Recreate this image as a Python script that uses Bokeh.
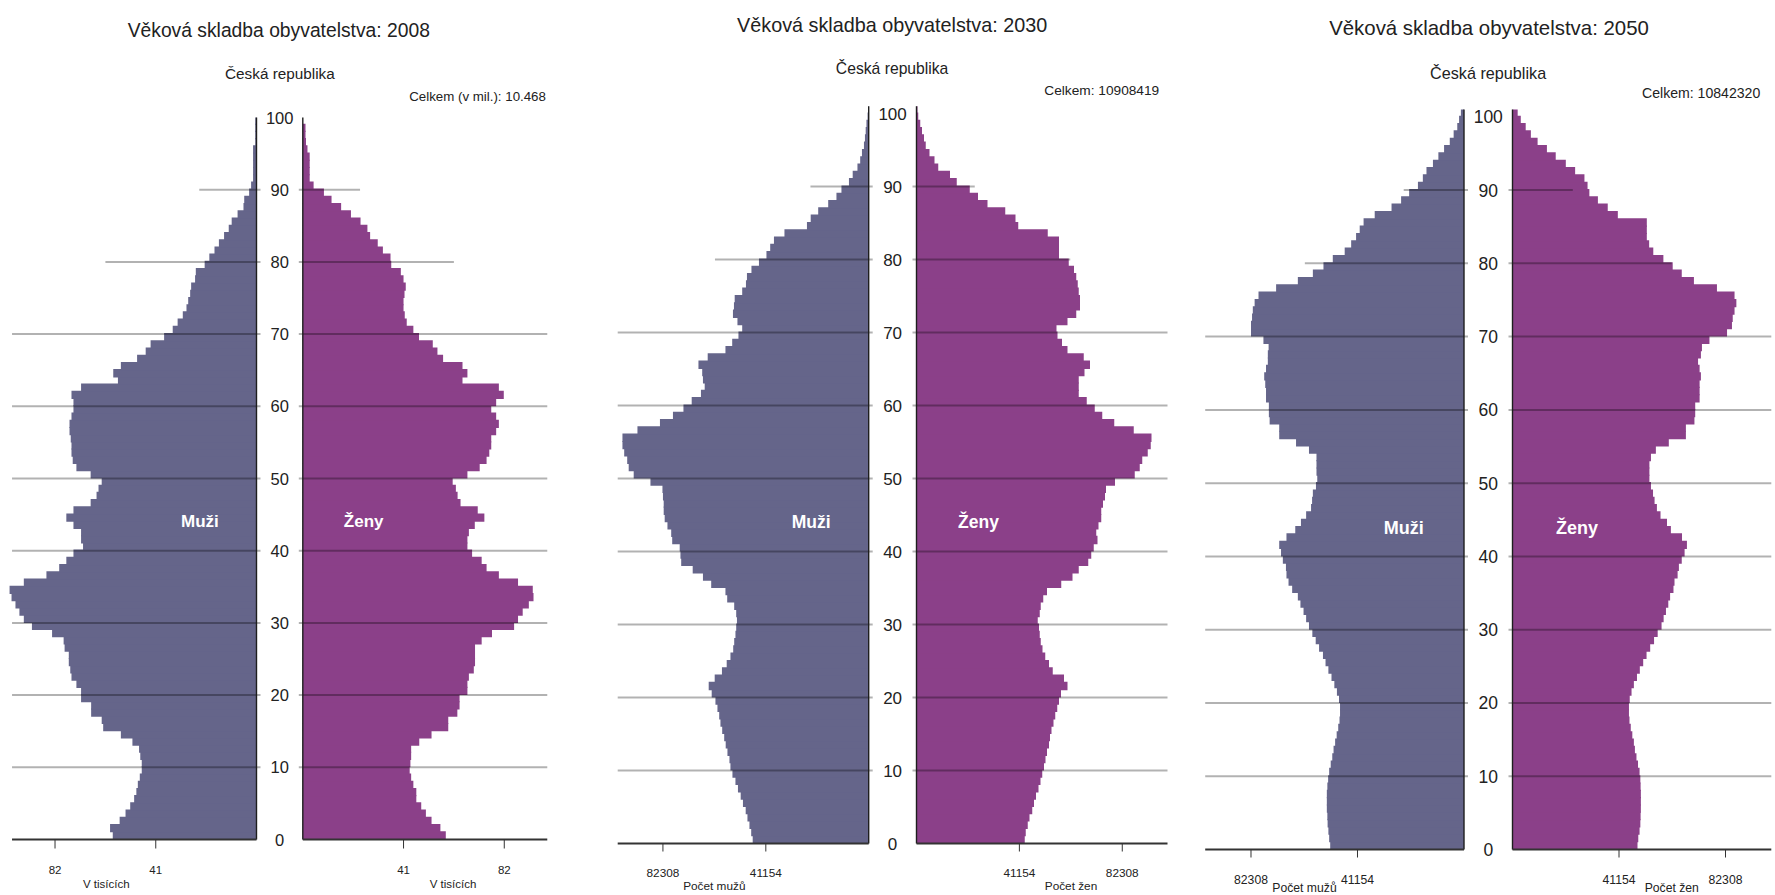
import numpy as np
from bokeh.plotting import figure
from bokeh.models import ColumnDataSource, Range1d
from bokeh.layouts import row
from bokeh.embed import file_html
from bokeh.resources import INLINE
from bokeh.core.properties import value

FONT = "Liberation Sans"
MEN = "#65658a"
WOMEN = "#8b4089"
INK = "#222222"

# ---------------- data (thousands of persons by single year of age) ----------------
ages_2008 = list(range(0, 100))
muzi_2008 = [58.5, 59.6, 55.7, 53.3, 51.4, 49.8, 48.9, 48.3, 47.5, 46.7,
             46.7, 47.3, 47.8, 50.5, 55.2, 62.4, 63.0, 67.3, 67.3, 71.4,
             71.4, 73.3, 75.3, 75.8, 76.4, 76.4, 78.1, 78.5, 83.2, 91.4,
             94.7, 96.5, 98.1, 99.7, 100.5, 94.7, 85.5, 80.3, 77.4, 74.5,
             70.6, 71.4, 71.4, 74.5, 77.4, 74.5, 67.5, 65.1, 64.3, 63.0,
             67.5, 73.3, 74.8, 75.3, 75.3, 75.6, 76.1, 76.1, 75.3, 74.5,
             74.5, 75.3, 71.4, 56.4, 58.3, 55.2, 48.6, 45.1, 43.1, 37.6,
             34.1, 32.1, 30.0, 28.5, 27.8, 27.0, 26.6, 25.0, 24.7, 21.1,
             19.2, 17.1, 15.3, 13.2, 11.3, 10.1, 7.7, 5.3, 5.0, 3.0,
             2.2, 1.4, 1.4, 1.4, 1.4, 1.4, 0.5, 0.5, 0.5, 0.5]
zeny_2008 = [58.2, 56.0, 52.4, 50.1, 48.2, 46.2, 46.2, 45.0, 44.1, 43.5,
             43.8, 44.1, 44.1, 47.4, 52.4, 59.2, 59.2, 62.9, 63.8, 63.8,
             67.0, 67.0, 67.6, 69.6, 70.1, 70.1, 70.1, 72.8, 77.0, 86.0,
             87.6, 89.5, 92.0, 93.9, 93.6, 87.6, 79.8, 74.8, 72.8, 68.9,
             67.0, 67.0, 67.6, 70.0, 73.9, 71.2, 64.2, 63.0, 62.3, 61.0,
             67.0, 72.0, 74.8, 75.9, 76.7, 76.7, 78.7, 79.8, 78.7, 76.7,
             78.7, 81.8, 79.8, 65.0, 67.0, 65.0, 57.1, 54.8, 52.9, 47.3,
             45.0, 42.3, 41.5, 41.0, 41.0, 41.4, 41.9, 41.0, 39.9, 36.0,
             35.7, 32.6, 30.5, 27.4, 26.3, 23.5, 19.6, 15.6, 11.7, 8.6,
             4.4, 2.8, 2.8, 2.8, 2.8, 1.9, 1.3, 1.1, 1.1, 0.0]

ages_2030 = list(range(0, 101))
muzi_2030 = [46.4, 47.0, 47.7, 48.5, 49.2, 50.3, 51.2, 52.3, 53.3, 54.5,
             55.3, 55.7, 56.5, 57.2, 57.8, 58.6, 59.3, 59.8, 60.5, 61.3,
             62.8, 64.0, 61.6, 58.7, 56.8, 55.3, 54.2, 53.8, 53.3, 53.0,
             52.7, 53.0, 53.8, 56.6, 57.3, 63.0, 66.3, 70.4, 75.0, 75.3,
             75.6, 78.6, 79.0, 80.5, 81.6, 82.0, 82.0, 82.3, 82.5, 87.3,
             94.0, 96.0, 96.6, 97.8, 98.5, 98.5, 92.5, 83.5, 78.3, 74.1,
             70.8, 67.1, 65.6, 66.3, 66.6, 68.1, 64.4, 57.3, 54.6, 52.1,
             50.6, 52.5, 54.3, 53.9, 53.6, 50.6, 49.1, 48.7, 46.9, 43.9,
             40.9, 39.4, 37.9, 33.7, 24.7, 23.2, 20.2, 16.2, 12.9, 10.9,
             7.9, 6.4, 4.5, 3.4, 2.7, 1.9, 1.5, 1.2, 0.9, 0.45, 0.15]
zeny_2030 = [43.3, 43.7, 44.5, 45.2, 46.3, 47.0, 47.8, 48.8, 49.6, 50.3,
             51.0, 51.6, 52.2, 53.0, 53.4, 54.0, 54.8, 55.5, 56.3, 57.0,
             57.8, 60.4, 59.0, 54.5, 53.0, 51.5, 50.4, 49.7, 49.3, 49.0,
             48.5, 49.3, 49.7, 50.7, 52.2, 57.9, 62.4, 64.9, 68.7, 69.9,
             70.9, 72.4, 71.9, 72.8, 73.9, 73.9, 74.6, 75.4, 75.8, 79.4,
             87.3, 89.3, 90.3, 92.5, 93.7, 94.0, 86.9, 79.1, 74.3, 71.3,
             68.1, 64.9, 64.9, 64.9, 67.2, 69.4, 66.9, 60.4, 58.2, 56.4,
             56.0, 60.4, 63.9, 65.4, 65.4, 64.9, 64.5, 63.9, 63.0, 60.9,
             57.0, 57.0, 57.0, 52.5, 40.7, 39.6, 35.5, 28.4, 24.6, 21.3,
             16.1, 13.4, 8.7, 7.2, 5.2, 3.7, 3.0, 2.2, 1.5, 0.7, 0.4]

ages_2050 = list(range(0, 101))
muzi_2050 = [51.7, 52.1, 52.4, 52.7, 52.8, 53.0, 53.0, 53.0, 52.8, 52.5,
             52.1, 51.5, 50.9, 50.4, 49.8, 49.2, 48.6, 48.1, 47.9, 47.9,
             48.3, 49.1, 50.1, 51.2, 52.4, 53.5, 54.5, 56.0, 57.3, 58.6,
             59.9, 61.0, 62.0, 63.2, 64.2, 66.4, 67.8, 68.6, 68.8, 70.0,
             70.7, 71.4, 68.6, 65.2, 63.0, 61.0, 59.1, 58.7, 58.4, 57.2,
             56.7, 57.0, 57.0, 57.0, 59.9, 64.9, 71.4, 71.4, 75.1, 75.4,
             75.4, 76.5, 76.5, 76.8, 77.2, 76.5, 75.8, 75.8, 75.5, 77.5,
             82.3, 82.3, 81.9, 81.6, 80.9, 79.4, 72.6, 64.2, 58.4, 54.3,
             50.7, 46.1, 43.6, 41.7, 40.3, 38.8, 34.5, 28.0, 24.3, 21.2,
             17.8, 15.9, 14.5, 12.0, 9.9, 7.7, 5.5, 4.0, 2.6, 1.9, 1.2]
zeny_2050 = [48.3, 48.6, 49.1, 49.4, 49.5, 49.6, 49.6, 49.6, 49.5, 49.4,
             49.1, 48.5, 47.9, 47.3, 46.9, 46.3, 45.7, 45.2, 45.0, 45.0,
             45.3, 46.0, 46.9, 48.1, 49.2, 50.5, 51.8, 53.2, 54.7, 56.1,
             57.6, 58.4, 59.3, 60.2, 60.9, 62.2, 62.6, 63.8, 64.3, 65.4,
             66.5, 67.4, 65.5, 61.2, 59.7, 57.2, 55.8, 54.9, 54.3, 53.5,
             52.9, 52.9, 52.9, 53.5, 55.4, 60.4, 67.0, 67.0, 70.3, 70.6,
             70.6, 72.3, 72.3, 72.3, 72.8, 72.3, 71.7, 72.8, 73.2, 76.1,
             82.9, 84.8, 85.1, 85.8, 86.5, 85.8, 79.0, 70.1, 65.4, 61.9,
             58.3, 54.4, 52.8, 51.9, 51.9, 51.9, 40.7, 36.8, 33.0, 29.7,
             29.0, 27.8, 24.2, 20.6, 16.7, 13.3, 9.7, 7.1, 5.1, 3.2, 2.0]

age_ticks = [0, 10, 20, 30, 40, 50, 60, 70, 80, 90, 100]
ticks_2008 = [41, 82]                  # thousands
tick_labels_2008 = ["41", "82"]
ticks_proj = [41154, 82308]            # persons
tick_labels_proj = ["41154", "82308"]

titles = ["Věková skladba obyvatelstva: 2008",
          "Věková skladba obyvatelstva: 2030",
          "Věková skladba obyvatelstva: 2050"]
subtitle = "Česká republika"
totals = ["Celkem (v mil.): 10.468", "Celkem: 10908419", "Celkem: 10842320"]
axis_titles = [("V tisících", "V tisících"), ("Počet mužů", "Počet žen"), ("Počet mužů", "Počet žen")]
label_m, label_z = "Muži", "Ženy"

# ---------------- layout (page pixel anchors) ----------------
H = 895
cfgs = [
    dict(left=0, right=580, ax_m=256.0, ax_z=302.3, s=2.457, y0=839, ppy=7.22, top_age=100,
         panel=99.5, k=1.0, title=(278.3, 30), sub=(279.4, 73), tot=(545.4, 96),
         mz=(199.4, 521), zz=(363.2, 521), tick_base=869, at=((105.8, 883), (452.5, 883)), tick_len=9,
         ages=ages_2008, m=muzi_2008, z=zeny_2008, ticks=ticks_2008,
         tlab=tick_labels_2008, tscale=1.0),
    dict(left=580, right=1180, ax_m=868.2, ax_z=916.0, s=2.50, y0=843, ppy=7.30, top_age=101,
         panel=100.4, k=1.028, title=(891.6, 24), sub=(891.6, 67.5), tot=(1158.7, 90),
         mz=(810.7, 521), zz=(978.0, 521), tick_base=872.5, at=((713.8, 885), (1070.5, 885)), tick_len=8,
         ages=ages_2030, m=muzi_2030, z=zeny_2030, ticks=ticks_proj,
         tlab=tick_labels_proj, tscale=0.001),
    dict(left=1180, right=1775, ax_m=1463.5, ax_z=1512.0, s=2.588, y0=849, ppy=7.327, top_age=101,
         panel=100.0, k=1.058, title=(1488.5, 27.5), sub=(1487.6, 72), tot=(1759.8, 92),
         mz=(1403.3, 527), zz=(1576.6, 527), tick_base=879, at=((1304.0, 887.5), (1671.3, 887.5)), tick_len=8,
         ages=ages_2050, m=muzi_2050, z=zeny_2050, ticks=ticks_proj,
         tlab=tick_labels_proj, tscale=0.001),
]


def build(i, c):
    s, ppy, y0 = c["s"], c["ppy"], c["y0"]
    cx = (c["ax_m"] + c["ax_z"]) / 2.0
    g = (c["ax_z"] - c["ax_m"]) / 2.0 / s

    def X(px):
        return (px - cx) / s

    def Y(py):
        return (y0 - py) / ppy

    p = figure(width=c["right"] - c["left"], height=H,
               x_range=Range1d(X(c["left"]), X(c["right"])),
               y_range=Range1d(Y(H), Y(0)),
               output_backend="svg", toolbar_location=None,
               x_axis_location=None, y_axis_location=None,
               min_border=0, min_border_left=0, min_border_right=0,
               min_border_top=0, min_border_bottom=0)
    p.outline_line_color = None
    p.xgrid.visible = False
    p.ygrid.visible = False
    p.background_fill_color = "white"
    p.border_fill_color = "white"

    ages = np.array(c["ages"], dtype=float)
    m = np.array(c["m"], dtype=float)
    z = np.array(c["z"], dtype=float)
    ov = 0.15  # slight vertical overlap so adjacent bars leave no seams
    top = np.minimum(ages + 1 + ov, c["top_age"])
    sm = ColumnDataSource(dict(b=ages, t=top, l=-(g + m), r=np.full(len(ages), -g)))
    sz = ColumnDataSource(dict(b=ages, t=top, l=np.full(len(ages), g), r=g + z))
    p.quad(left="l", right="r", bottom="b", top="t", source=sm,
           fill_color=MEN, line_color=None)
    p.quad(left="l", right="r", bottom="b", top="t", source=sz,
           fill_color=WOMEN, line_color=None)

    # horizontal grid lines (drawn over bars, translucent)
    gl = [a for a in age_ticks if 0 < a < 100]
    ext = [c["panel"] if a <= 70 else (61.5 if a == 80 else 23.3) for a in gl]
    stub = 4.0 / s
    p.segment(x0=[-(g + e) for e in ext], y0=gl, x1=[-g + stub] * len(gl), y1=gl,
              line_color="black", line_alpha=0.3, line_width=2)
    p.segment(x0=[g - stub] * len(gl), y0=gl, x1=[g + e for e in ext], y1=gl,
              line_color="black", line_alpha=0.3, line_width=2)

    # axis lines
    p.segment(x0=[-g, g], y0=[0, 0], x1=[-g, g], y1=[c["top_age"], c["top_age"]],
              line_color="#1e1e1e", line_width=1.4)
    p.segment(x0=[-(g + c["panel"]), g], y0=[0, 0], x1=[-g, g + c["panel"]], y1=[0, 0],
              line_color="#333333", line_width=2)
    tv = [t * c["tscale"] for t in c["ticks"]]
    tx = [-(g + t) for t in tv] + [g + t for t in tv]
    ty1 = Y(y0 + c["tick_len"])
    p.segment(x0=tx, y0=[0] * 4, x1=tx, y1=[ty1] * 4, line_color="#333333", line_width=1)

    k = c["k"]
    fs = lambda v: "%.1fpx" % (v * k)

    # age labels
    p.text(x=[0] * len(age_ticks), y=age_ticks, text=[str(a) for a in age_ticks],
           text_align="center", text_baseline="middle", text_font=value(FONT),
           text_font_size=fs(16.5), text_color=INK)
    # tick labels
    p.text(x=tx, y=[Y(c["tick_base"])] * 4, text=list(c["tlab"]) + list(c["tlab"]),
           text_align="center", text_baseline="alphabetic", text_font=value(FONT),
           text_font_size=fs(11.5), text_color=INK)
    # axis titles
    (ax1, ay1), (ax2, ay2) = c["at"]
    p.text(x=[X(ax1), X(ax2)], y=[Y(ay1), Y(ay2)], text=list(axis_titles[i]),
           text_align="center", text_baseline="alphabetic", text_font=value(FONT),
           text_font_size=fs(11.5), text_color=INK)
    # titles
    p.text(x=[X(c["title"][0])], y=[Y(c["title"][1])], text=[titles[i]],
           text_align="center", text_baseline="alphabetic", text_font=value(FONT),
           text_font_size=fs(19.3), text_color=INK)
    p.text(x=[X(c["sub"][0])], y=[Y(c["sub"][1])], text=[subtitle],
           text_align="center", text_baseline="alphabetic", text_font=value(FONT),
           text_font_size=fs(15.3), text_color=INK)
    p.text(x=[X(c["tot"][0])], y=[Y(c["tot"][1])], text=[totals[i]],
           text_align="right", text_baseline="alphabetic", text_font=value(FONT),
           text_font_size=fs(13.3), text_color=INK)
    # sex labels
    p.text(x=[X(c["mz"][0]), X(c["zz"][0])], y=[Y(c["mz"][1]), Y(c["zz"][1])],
           text=[label_m, label_z], text_align="center", text_baseline="alphabetic",
           text_font=value(FONT), text_font_style="bold", text_font_size=fs(17.0),
           text_color="white")
    return p


figs = [build(i, c) for i, c in enumerate(cfgs)]
layout = row(*figs, spacing=0)
open("out.html", "w").write(file_html(layout, INLINE))
